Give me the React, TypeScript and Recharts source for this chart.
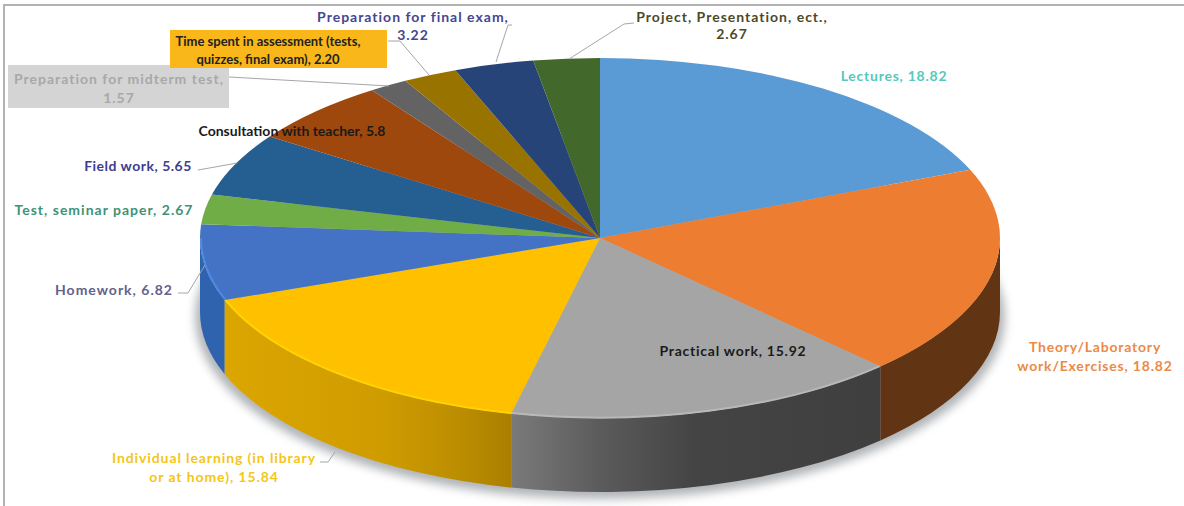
import { PieChart, Pie } from 'recharts';

const CATEGORIES = [
  'Lectures',
  'Theory/Laboratory work/Exercises',
  'Practical work',
  'Individual learning (in library or at home)',
  'Homework',
  'Test, seminar paper',
  'Field work',
  'Consultation with teacher',
  'Preparation for midterm test',
  'Time spent in assessment (tests, quizzes, final exam)',
  'Preparation for final exam',
  'Project, Presentation, ect.',
];
const VALUES = [18.82, 18.82, 15.92, 15.84, 6.82, 2.67, 5.65, 5.8, 1.57, 2.2, 3.22, 2.67];

const FACE_COLORS = [
  '#5b9bd5', '#ed7d31', '#a5a5a5', '#ffc000', '#4472c4', '#70ad47',
  '#255e91', '#9e480e', '#636363', '#997300', '#264478', '#43682b',
];
const WALL_COLORS = [
  '#3d6b94', '#613413', 'url(#wallGrey)', 'url(#wallGold)', '#2f63ad', '#4d7731',
  '#1a4165', '#6e320a', '#454545', '#6a5000', '#1a2f53', '#2e481e',
];
const RIM_COLORS = [
  'none', 'none', '#b8b8b8', '#ffd400', '#4f8ae0', 'none',
  'none', 'none', 'none', 'none', 'none', 'none',
];

const LABEL_LINES = [
  ['Lectures, 18.82'],
  ['Theory/Laboratory', 'work/Exercises, 18.82'],
  ['Practical work, 15.92'],
  ['Individual learning (in library', 'or at home), 15.84'],
  ['Homework, 6.82'],
  ['Test, seminar paper, 2.67'],
  ['Field work, 5.65'],
  ['Consultation with teacher, 5.8'],
  ['Preparation for midterm test,', '1.57'],
  ['Time spent in assessment (tests,', 'quizzes, final exam), 2.20'],
  ['Preparation for final exam,', '3.22'],
  ['Project, Presentation, ect.,', '2.67'],
];
const LABEL_COLORS = [
  '#56c8bd', '#ec8a47', '#1a1a1a', '#f5c518', '#62628a', '#3f9274',
  '#3d3d8f', '#1a1a1a', '#a8a8a8', '#222222', '#46468f', '#4a4a28',
];
const LABEL_SIZES = [14, 14, 14, 14, 14, 14, 14, 14, 14, 13, 14, 14];
const LABEL_SPACING = [0.75, 0.8, 0.75, 0.9, 1, 1, 0.5, 0, 1, 0, 1, 1];
const LABEL_LINE_GAPS = [0, 19, 0, 19, 0, 0, 0, 0, 19, 17.5, 18, 17];
// center x and first baseline of each label
const LABEL_ANCHORS = [
  [894, 81], [1095, 352], [733, 356], [214, 463], [114, 295], [104, 215],
  [138, 171], [292, 136], [119, 84], [268, 46], [413, 22], [732, 22],
];
const LABEL_BOXES: Record<number, { x: number; y: number; w: number; h: number; fill: string }> = {
  8: { x: 8, y: 65, w: 221, h: 43, fill: '#d4d4d4' },
  9: { x: 170, y: 30, w: 217, h: 38, fill: '#f9b71a' },
};
const LEADER_LINES: Record<number, string> = {
  3: '320,462 328,462 335,452',
  4: '178,293 188,293 205,265',
  6: '198,170 215,167 237,163',
  8: '229,77 389,86',
  9: '388,41 400,41 429,75',
  10: '512,25 508,25 496,62',
  11: '634,23 624,24 569,59',
};

const CX = 600;
const CY = 238;
const RX = 400;
const SQUASH = 0.45;
const DEPTH = 74;

const tableData = CATEGORIES.map((name, i) => ({
  name,
  value: VALUES[i],
  fill: FACE_COLORS[i],
  wall: WALL_COLORS[i],
  rim: RIM_COLORS[i],
}));
const shadowData = [{ name: 'shadow', value: 100 }];

const RAD = Math.PI / 180;
const ellipsePoint = (cx: number, cy: number, r: number, deg: number) => ({
  x: cx + r * Math.cos(deg * RAD),
  y: cy - r * SQUASH * Math.sin(deg * RAD),
});

function FaceSector(props: any) {
  const { cx, cy, outerRadius: r, startAngle, endAngle, fill, rim } = props;
  const a = ellipsePoint(cx, cy, r, startAngle);
  const b = ellipsePoint(cx, cy, r, endAngle);
  const large = startAngle - endAngle > 180 ? 1 : 0;
  const s = Math.min(startAngle, 0);
  const e = Math.max(endAngle, -180);
  const showRim = rim !== 'none' && s > e;
  const ra = ellipsePoint(cx, cy, r - 1, s);
  const rb = ellipsePoint(cx, cy, r - 1, e);
  return (
    <g>
      <path d={`M${cx},${cy} L${a.x},${a.y} A${r},${r * SQUASH} 0 ${large} 1 ${b.x},${b.y} Z`} fill={fill} />
      {showRim && (
        <path
          d={`M${ra.x},${ra.y} A${r - 1},${(r - 1) * SQUASH} 0 0 1 ${rb.x},${rb.y}`}
          fill="none"
          stroke={rim}
          strokeWidth={2}
        />
      )}
    </g>
  );
}

// only the part of a slice below the horizontal axis shows a side wall
function WallSector(props: any) {
  const { cx, cy, outerRadius: r, startAngle, endAngle, wall } = props;
  const s = Math.min(startAngle, 0);
  const e = Math.max(endAngle, -180);
  if (s <= e) return null;
  const a = ellipsePoint(cx, cy, r, s);
  const b = ellipsePoint(cx, cy, r, e);
  const ry = r * SQUASH;
  return (
    <path
      d={`M${a.x},${a.y} A${r},${ry} 0 0 1 ${b.x},${b.y} L${b.x},${b.y + DEPTH} A${r},${ry} 0 0 0 ${a.x},${a.y + DEPTH} Z`}
      fill={wall}
    />
  );
}

function ShadowSector(props: any) {
  const { cx, cy, outerRadius: r } = props;
  return (
    <ellipse
      cx={cx}
      cy={cy + DEPTH + 5}
      rx={r + 5}
      ry={r * SQUASH + 2}
      fill="#7d8288"
      opacity={0.6}
      filter="url(#softShadow)"
    />
  );
}

function SliceLabel(props: any) {
  const { index } = props;
  const [x, y] = LABEL_ANCHORS[index];
  const box = LABEL_BOXES[index];
  const leader = LEADER_LINES[index];
  return (
    <g>
      {leader && <polyline points={leader} fill="none" stroke="#a6a6a6" strokeWidth={1} />}
      {box && <rect x={box.x} y={box.y} width={box.w} height={box.h} fill={box.fill} />}
      <text
        x={x}
        y={y}
        textAnchor="middle"
        fontFamily="Lato, 'Open Sans', sans-serif"
        fontSize={LABEL_SIZES[index]}
        fontWeight={700}
        letterSpacing={LABEL_SPACING[index]}
        fill={LABEL_COLORS[index]}
      >
        {LABEL_LINES[index].map((line, i) => (
          <tspan key={i} x={x} dy={i === 0 ? 0 : LABEL_LINE_GAPS[index]}>
            {line}
          </tspan>
        ))}
      </text>
    </g>
  );
}

export default function App() {
  return (
    <div style={{ position: 'absolute', left: 0, top: 0, width: 1184, height: 506, overflow: 'hidden', background: '#fff' }}>
      <div style={{ position: 'absolute', left: 3, top: 4, right: 0, bottom: 0, borderTop: '2px solid #b2b2b2', borderLeft: '2px solid #b2b2b2' }} />
      <div style={{ position: 'absolute', left: 0, top: 0 }}>
        <PieChart width={1184} height={506} margin={{ top: 0, right: 0, bottom: 0, left: 0 }}>
          <defs>
            <linearGradient id="wallGold" x1="0" y1="0" x2="1" y2="0">
              <stop offset="0" stopColor="#dca600" />
              <stop offset="0.55" stopColor="#cf9c00" />
              <stop offset="0.85" stopColor="#b98b00" />
              <stop offset="1" stopColor="#ab7e00" />
            </linearGradient>
            <linearGradient id="wallGrey" x1="0" y1="0" x2="1" y2="0">
              <stop offset="0" stopColor="#7a7a7a" />
              <stop offset="0.25" stopColor="#5a5a5a" />
              <stop offset="0.5" stopColor="#444444" />
              <stop offset="1" stopColor="#3f3f3f" />
            </linearGradient>
            <filter id="softShadow" x="-5%" y="-10%" width="110%" height="120%">
              <feGaussianBlur stdDeviation="5" />
            </filter>
          </defs>
          <Pie
            data={shadowData}
            dataKey="value"
            cx={CX}
            cy={CY}
            outerRadius={RX}
            startAngle={90}
            endAngle={-270}
            stroke="none"
            shape={ShadowSector}
            isAnimationActive={false}
          />
          <Pie
            data={tableData}
            dataKey="value"
            cx={CX}
            cy={CY}
            outerRadius={RX}
            startAngle={90}
            endAngle={-270}
            stroke="none"
            shape={WallSector}
            isAnimationActive={false}
          />
          <Pie
            data={tableData}
            dataKey="value"
            cx={CX}
            cy={CY}
            outerRadius={RX}
            startAngle={90}
            endAngle={-270}
            stroke="none"
            shape={FaceSector}
            label={SliceLabel}
            labelLine={false}
            isAnimationActive={false}
          />
        </PieChart>
      </div>
    </div>
  );
}
